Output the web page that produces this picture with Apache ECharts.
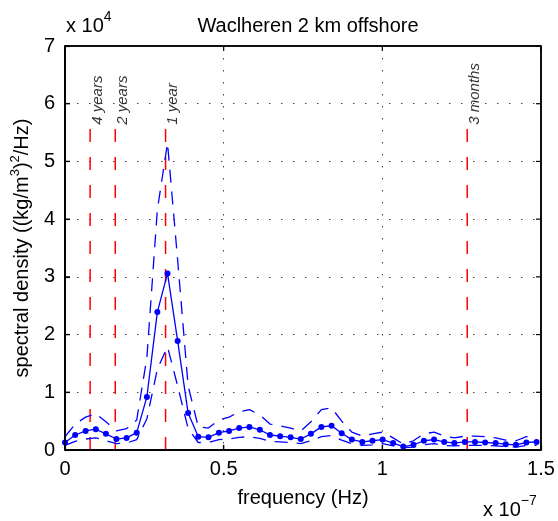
<!DOCTYPE html>
<html>
<head>
<meta charset="utf-8">
<script src="https://cdn.jsdelivr.net/npm/echarts@6/dist/echarts.min.js"></script>
<style>
  html, body { margin: 0; padding: 0; background: #fff; }
  #main { width: 558px; height: 521px; }
</style>
</head>
<body>
<div id="main"></div>
<script>
// frequency (x 1e-7 Hz)
const freq = [0, 0.032, 0.065, 0.097, 0.129, 0.162, 0.194, 0.226, 0.258, 0.291,
  0.323, 0.355, 0.388, 0.420, 0.452, 0.485, 0.517, 0.549, 0.581, 0.614,
  0.646, 0.678, 0.711, 0.743, 0.775, 0.808, 0.840, 0.872, 0.904, 0.937,
  0.969, 1.001, 1.034, 1.066, 1.098, 1.131, 1.163, 1.195, 1.227, 1.260,
  1.292, 1.324, 1.357, 1.389, 1.421, 1.454, 1.486];
// spectral density (x 1e4)
const density = [0.13, 0.26, 0.33, 0.36, 0.28, 0.19, 0.21, 0.30, 0.92, 2.39,
  3.06, 1.89, 0.64, 0.23, 0.22, 0.30, 0.33, 0.38, 0.40, 0.35,
  0.26, 0.24, 0.22, 0.19, 0.28, 0.40, 0.42, 0.29, 0.18, 0.14,
  0.16, 0.18, 0.12, 0.06, 0.09, 0.16, 0.18, 0.14, 0.12, 0.14,
  0.14, 0.13, 0.12, 0.10, 0.09, 0.13, 0.14];
// confidence bounds
const upper = [0.23, 0.45, 0.57, 0.63, 0.49, 0.33, 0.37, 0.52, 1.60, 4.16,
  5.32, 3.29, 1.11, 0.40, 0.38, 0.52, 0.57, 0.66, 0.70, 0.61,
  0.45, 0.42, 0.38, 0.33, 0.49, 0.70, 0.73, 0.50, 0.31, 0.24,
  0.28, 0.31, 0.21, 0.10, 0.16, 0.28, 0.31, 0.24, 0.21, 0.24,
  0.24, 0.23, 0.21, 0.17, 0.16, 0.23, 0.24];
const lower = [0.08, 0.15, 0.19, 0.21, 0.16, 0.11, 0.12, 0.18, 0.54, 1.40,
  1.79, 1.11, 0.37, 0.13, 0.13, 0.18, 0.19, 0.22, 0.23, 0.20,
  0.15, 0.14, 0.13, 0.11, 0.16, 0.23, 0.25, 0.17, 0.11, 0.08,
  0.09, 0.11, 0.07, 0.04, 0.05, 0.09, 0.11, 0.08, 0.07, 0.08,
  0.08, 0.08, 0.07, 0.06, 0.05, 0.08, 0.08];
// period markers
const markFreq = [0.0792, 0.1584, 0.3169, 1.2675];
const markNames = ['4 years', '2 years', '1 year', '3 months'];
const markTop = 5.6;
// axis ticks and limits
const xTicks = [0, 0.5, 1, 1.5];
const yTicks = [0, 1, 2, 3, 4, 5, 6, 7];
const xMin = 0, xMax = 1.5, yMin = 0, yMax = 7;

const font = 'Liberation Sans, Arial, sans-serif';
const blue = '#0000ff';
const red = '#ff0000';
const ink = '#000000';

const pair = (xs, ys) => xs.map((x, i) => [x, ys[i]]);

const chart = echarts.init(document.getElementById('main'));

function dots() {
  return { show: true, lineStyle: { color: '#444', type: [1.5, 10.5], width: 1 } };
}

const series = [];

// red dashed period lines
markFreq.forEach((f) => {
  series.push({
    type: 'line',
    data: [[f, 0], [f, markTop]],
    symbol: 'none',
    silent: true,
    lineStyle: { color: red, width: 1.5, type: [13, 15] },
    z: 1
  });
});
// period labels
series.push({
  type: 'scatter',
  data: markFreq.map((f, i) => ({ value: [f, markTop], name: markNames[i] })),
  symbolSize: 0,
  silent: true,
  label: {
    show: true,
    position: 'top',
    distance: 2,
    rotate: 90,
    align: 'left',
    verticalAlign: 'top',
    formatter: (p) => p.name,
    fontFamily: font,
    fontStyle: 'italic',
    fontSize: 15,
    color: '#000'
  }
});

// confidence bounds
[upper, lower].forEach((b) => {
  series.push({
    type: 'line',
    data: pair(freq, b),
    symbol: 'none',
    silent: true,
    lineStyle: { color: blue, width: 1.3, type: [13, 9] },
    z: 2
  });
});

// spectrum
series.push({
  type: 'line',
  data: pair(freq, density),
  symbol: 'circle',
  symbolSize: 6,
  itemStyle: { color: blue },
  lineStyle: { color: blue, width: 1.3 },
  z: 3
});

// axes box, drawn as a closed path through the axes' scales
series.push({
  type: 'line',
  data: [[xMin, yMin], [xMax, yMin], [xMax, yMax], [xMin, yMax], [xMin, yMin]],
  symbol: 'none',
  silent: true,
  clip: false,
  lineStyle: { color: ink, width: 1.5, type: 'solid' },
  z: 4
});

// inward ticks on all four sides
series.push({
  type: 'custom',
  silent: true,
  clip: false,
  z: 4,
  data: xTicks.map((t) => [t, yMin, 0]).concat(yTicks.map((t) => [xMin, t, 1])),
  encode: { x: 0, y: 1 },
  renderItem: function (params, api) {
    const x = api.value(0), y = api.value(1), isY = api.value(2);
    const st = { stroke: ink, lineWidth: 1.2 };
    if (!isY) {
      const b = api.coord([x, yMin]), t = api.coord([x, yMax]);
      return { type: 'group', children: [
        { type: 'line', shape: { x1: b[0], y1: b[1], x2: b[0], y2: b[1] - 5 }, style: st },
        { type: 'line', shape: { x1: t[0], y1: t[1], x2: t[0], y2: t[1] + 5 }, style: st }
      ] };
    }
    const l = api.coord([xMin, y]), r = api.coord([xMax, y]);
    return { type: 'group', children: [
      { type: 'line', shape: { x1: l[0], y1: l[1], x2: l[0] + 5, y2: l[1] }, style: st },
      { type: 'line', shape: { x1: r[0], y1: r[1], x2: r[0] - 5, y2: r[1] }, style: st }
    ] };
  }
});

const rich = {
  a: { fontFamily: font, fontSize: 20, fill: '#000', verticalAlign: 'bottom', lineHeight: 26 },
  s: { fontFamily: font, fontSize: 14, fill: '#000', verticalAlign: 'top', lineHeight: 26 }
};

const gridBox = { left: 65, right: 17, top: 46, bottom: 71 };

const option = {
  animation: false,
  backgroundColor: '#fff',
  title: {
    text: 'Waclheren 2 km offshore',
    left: 303,
    top: 11,
    textAlign: 'center',
    textStyle: { fontFamily: font, fontSize: 20, fontWeight: 'normal', color: '#000' }
  },
  grid: Object.assign({ show: true, borderColor: ink, borderWidth: 1.5, backgroundColor: 'transparent' }, gridBox),
  xAxis: {
    type: 'value',
    min: xMin, max: xMax, interval: 0.5,
    name: 'frequency (Hz)',
    nameLocation: 'middle',
    nameGap: 38,
    nameTextStyle: { fontFamily: font, fontSize: 20, color: '#000' },
    axisLine: { show: true, onZero: false, lineStyle: { color: ink, width: 1.5 } },
    axisTick: { show: true, inside: true, length: 5, lineStyle: { color: ink, width: 1.2 } },
    splitLine: dots(),
    axisLabel: {
      fontFamily: font, fontSize: 20, color: '#000', margin: 9,
      formatter: (v) => String(v)
    }
  },
  yAxis: {
    type: 'value',
    min: yMin, max: yMax, interval: 1,
    name: '{a|spectral density ((kg/m}{s|3}{a|)}{s|2}{a|/Hz)}',
    nameLocation: 'middle',
    nameGap: 29,
    nameTextStyle: {
      rich: {
        a: { fontFamily: font, fontSize: 20, color: '#000', verticalAlign: 'bottom', lineHeight: 24 },
        s: { fontFamily: font, fontSize: 13, color: '#000', verticalAlign: 'top', lineHeight: 24 }
      }
    },
    axisLine: { show: true, onZero: false, lineStyle: { color: ink, width: 1.5 } },
    axisTick: { show: true, inside: true, length: 5, lineStyle: { color: ink, width: 1.2 } },
    splitLine: dots(),
    axisLabel: { fontFamily: font, fontSize: 20, color: '#000', margin: 10 }
  },
  graphic: [
    { type: 'text', left: 66, top: 10, style: { text: '{a|x 10}{s|4}', rich: rich } },
    { type: 'text', left: 483, top: 494, style: { text: '{a|x 10}{s|\u22127}', rich: rich } }
  ],
  series: series
};

chart.setOption(option);
</script>
</body>
</html>
